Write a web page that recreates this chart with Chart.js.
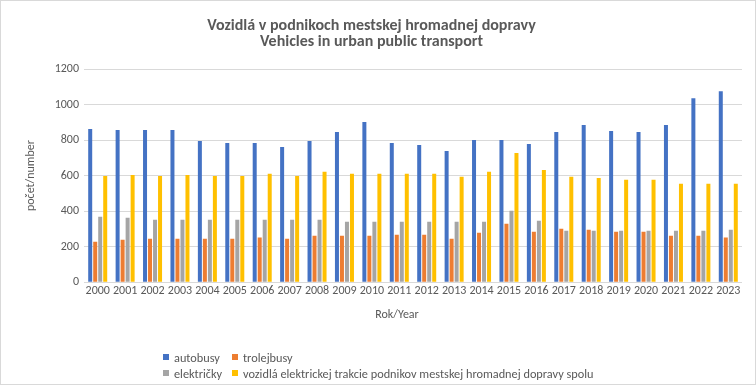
<!DOCTYPE html>
<html>
<head>
<meta charset="utf-8">
<script src="https://cdn.jsdelivr.net/npm/chart.js@4/dist/chart.umd.min.js"></script>
<style>
  html, body { margin: 0; padding: 0; background: #fff; }
  #wrap { position: relative; width: 754px; height: 383px; border: 1px solid #D9D9D9; background: #fff; overflow: hidden; }
  #c { position: absolute; left: 0; top: 0; }
  #legend { position: absolute; left: 162px; top: 349px; font-family: Carlito, Calibri, "Liberation Sans", sans-serif; font-size: 12.3px; color: #595959; display: grid; grid-template-columns: 69px auto; row-gap: 2px; }
  #legend .it { display: flex; align-items: center; white-space: nowrap; height: 14px; }
  #legend .sw { width: 6px; height: 6px; margin-right: 5px; display: inline-block; }
</style>
</head>
<body>
<div id="wrap">
  <canvas id="c" width="754" height="383"></canvas>
  <div id="legend"></div>
</div>
<script>
const years = ["2000","2001","2002","2003","2004","2005","2006","2007","2008","2009","2010","2011","2012","2013","2014","2015","2016","2017","2018","2019","2020","2021","2022","2023"];
const autobusy   = [862,856,856,856,795,784,784,761,795,845,901,784,772,739,800,800,778,845,885,851,845,885,1036,1075];
const trolejbusy = [228,239,245,245,245,245,251,245,262,262,262,267,267,245,279,329,284,301,295,284,284,262,262,251];
const elektricky = [368,363,352,352,352,352,352,352,352,340,340,340,340,340,340,402,346,290,290,290,290,290,290,295];
const spolu      = [598,604,598,604,598,598,610,598,621,610,610,610,610,593,621,727,632,593,587,576,576,554,554,554];
const yTicks = [0,200,400,600,800,1000,1200];
const seriesNames = ["autobusy","trolejbusy","električky","vozidlá elektrickej trakcie podnikov mestskej hromadnej dopravy spolu"];
const seriesColors = ["#4472C4","#ED7D31","#A5A5A5","#FFC000"];
const xTitle = "Rok/Year";

const FONT = 'Carlito, Calibri, "Liberation Sans", sans-serif';
const TXT = '#595959';

const allData = [autobusy, trolejbusy, elektricky, spolu];
const datasets = allData.map((d, i) => ({
  label: seriesNames[i],
  data: d,
  backgroundColor: seriesColors[i],
  borderWidth: 0,
  categoryPercentage: 0.73,
  barPercentage: 0.8
}));

const xTitlePlugin = {
  id: 'xTitle',
  afterDraw(chart) {
    const { ctx, chartArea } = chart;
    ctx.save();
    ctx.font = '12px ' + FONT;
    ctx.fillStyle = TXT;
    ctx.textAlign = 'center';
    ctx.textBaseline = 'middle';
    ctx.fillText(xTitle, (chartArea.left + chartArea.right) / 2 - 16, chartArea.bottom + 32.5);
    ctx.restore();
  }
};

new Chart(document.getElementById('c'), {
  type: 'bar',
  data: { labels: years, datasets },
  plugins: [xTitlePlugin],
  options: {
    responsive: false,
    animation: false,
    layout: { padding: { left: 0, right: 13, top: 0, bottom: 83.4 } },
    plugins: {
      legend: { display: false },
      tooltip: { enabled: false },
      title: {
        display: true,
        text: ["Vozidlá v podnikoch mestskej hromadnej dopravy", "Vehicles in urban public transport"],
        color: TXT,
        font: { family: FONT, size: 16, weight: 'bold', lineHeight: 1.0 },
        padding: { top: 17, bottom: 19 }
      }
    },
    scales: {
      x: {
        grid: { display: false, drawTicks: false },
        border: { display: false },
        ticks: { color: TXT, font: { family: FONT, size: 12 }, padding: 2, maxRotation: 0, autoSkip: false }
      },
      y: {
        min: 0, max: 1200,
        afterBuildTicks: (s) => { s.ticks = yTicks.map(v => ({ value: v })); },
        afterFit: (s) => { s.width = 83; },
        grid: { color: '#D9D9D9', lineWidth: 1, drawTicks: false },
        border: { display: false },
        ticks: { color: TXT, font: { family: FONT, size: 12 }, padding: 5, callback: (v) => String(v) },
        title: { display: true, text: "počet/number", color: TXT, font: { family: FONT, size: 12 }, padding: { top: 23, bottom: 0 } }
      }
    }
  }
});

const leg = document.getElementById('legend');
seriesNames.forEach((n, i) => {
  const it = document.createElement('div');
  it.className = 'it';
  const sw = document.createElement('span');
  sw.className = 'sw';
  sw.style.background = seriesColors[i];
  const t = document.createElement('span');
  t.textContent = n;
  it.appendChild(sw); it.appendChild(t);
  leg.appendChild(it);
});
</script>
</body>
</html>
